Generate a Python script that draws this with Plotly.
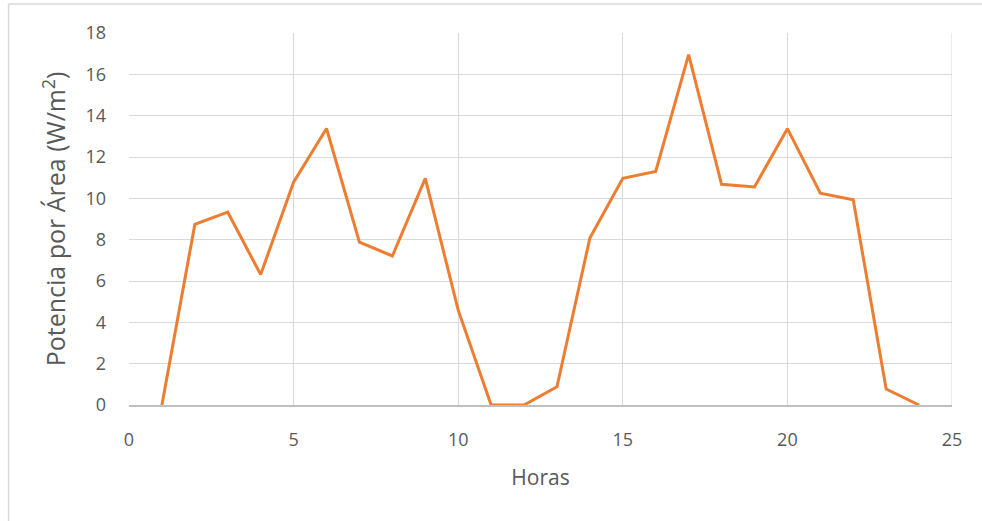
import plotly.graph_objects as go

# Hourly power per area
horas = list(range(1, 25))
potencia = [0, 8.74, 9.33, 6.31, 10.78, 13.38, 7.88, 7.21, 10.97, 4.59,
            0, 0, 0.88, 8.08, 10.97, 11.30, 16.95, 10.68, 10.55, 13.37,
            10.25, 9.93, 0.77, 0]

x_ticks = [0, 5, 10, 15, 20, 25]
y_ticks = [0, 2, 4, 6, 8, 10, 12, 14, 16, 18]

W, H = 982, 521
L, R, T, B = 128.5, 30, 33, 116
pw = W - L - R
ph = H - T - B

def px_x(p):
    return (p - L) / pw

def px_y(p):
    return 1 - (p - T) / ph

font = "'Open Sans', sans-serif"
grey_txt = "#595959"
grid = "#d9d9d9"

fig = go.Figure()
fig.add_trace(go.Scatter(
    x=horas, y=potencia, mode="lines",
    line=dict(color="#ED7D31", width=3),
    showlegend=False,
))

fig.update_layout(
    width=W, height=H,
    margin=dict(l=L, r=R, t=T, b=B),
    paper_bgcolor="white", plot_bgcolor="white",
    font=dict(family=font, size=18, color=grey_txt),
    xaxis=dict(
        range=[0, 25], tickvals=x_ticks, ticktext=[str(v) for v in x_ticks],
        showgrid=True, gridcolor=grid, gridwidth=1,
        zeroline=False, showline=True, linecolor="#bfbfbf", linewidth=1.5,
        ticks="", ticklabelstandoff=18,
        tickfont=dict(size=18, color=grey_txt),
        title=dict(text="Horas", font=dict(size=21, color=grey_txt), standoff=20),
        fixedrange=True,
    ),
    yaxis=dict(
        range=[0, 18], tickvals=y_ticks, ticktext=[str(v) for v in y_ticks],
        showgrid=True, gridcolor=grid, gridwidth=1,
        zeroline=False, showline=False,
        ticks="", ticklabelstandoff=22,
        tickfont=dict(size=18, color=grey_txt),
        title=dict(text="Potencia por Área (W/m<sup>2</sup>)",
                   font=dict(size=25, color=grey_txt), standoff=12),
        fixedrange=True,
    ),
    shapes=[
        # right edge of the plot area
        dict(type="line", xref="x", yref="y", x0=25, x1=25, y0=0, y1=18,
             line=dict(color=grid, width=1)),
        # chart frame (top and left edges)
        dict(type="line", xref="paper", yref="paper",
             x0=px_x(8), x1=px_x(990), y0=px_y(4), y1=px_y(4),
             line=dict(color=grid, width=1.5)),
        dict(type="line", xref="paper", yref="paper",
             x0=px_x(8), x1=px_x(8), y0=px_y(4), y1=px_y(530),
             line=dict(color=grid, width=1.5)),
    ],
)

fig.write_html("out.html")
